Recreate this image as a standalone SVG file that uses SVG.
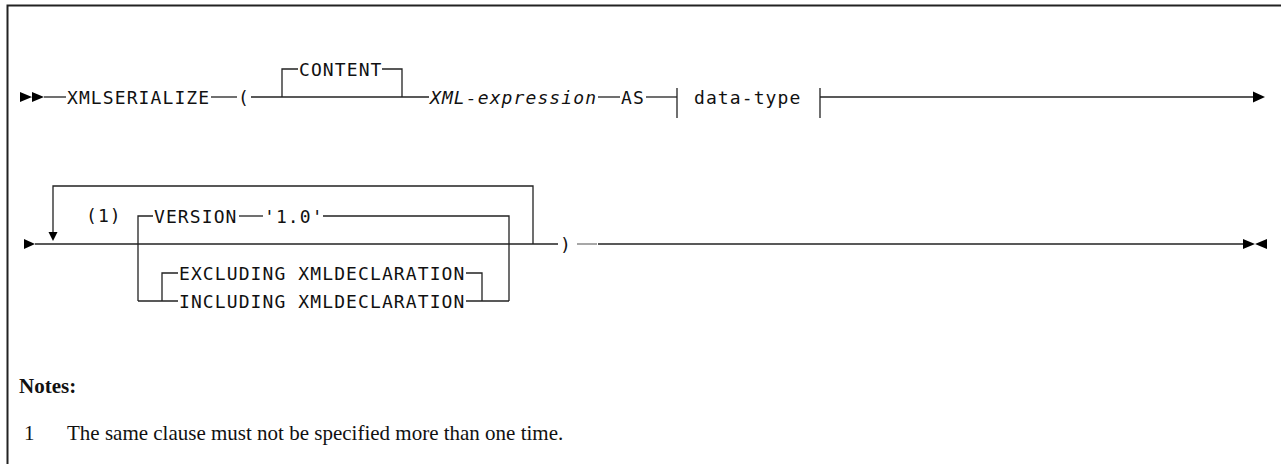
<svg xmlns="http://www.w3.org/2000/svg" width="1281" height="464" viewBox="0 0 1281 464">
<style>
.t{font-family:"DejaVu Sans Mono","Liberation Mono",monospace;font-size:18px;letter-spacing:1.1px;fill:#111}
.i{font-style:italic}
.ln{fill:none;stroke:#222;stroke-width:1.3}
.ah{fill:#000}
.n{font-family:"Liberation Serif","Times New Roman",serif;font-size:21px;fill:#111}
.b{font-weight:bold}
</style>
<rect width="1281" height="464" fill="#fff"/>
<path d="M7.5,464 V5.5 H1281" fill="none" stroke="#222" stroke-width="2"/>
<g id="connectors">
  <path class="ah" d="M20,92 L32,97 L20,102 Z M32,92 L44,97 L32,102 Z"/>
  <path class="ln" d="M44,97 H66"/>
  <path class="ln" d="M211,97 H237"/>
  <path class="ln" d="M251,97 H429"/>
  <path class="ln" d="M282,97 V69 H298"/>
  <path class="ln" d="M382,69 H402 V97"/>
  <path class="ln" d="M598,97 H620"/>
  <path class="ln" d="M646,97 H677"/>
  <path class="ln" d="M677,88 V118"/>
  <path class="ln" d="M820,88 V118"/>
  <path class="ln" d="M820,97 H1254"/>
  <path class="ah" d="M1253,91.5 L1265,97 L1253,102.5 Z"/>
  <path class="ah" d="M24,239 L35,244 L24,249 Z"/>
  <path class="ln" d="M35,244 H558"/>
  <path class="ln" d="M533,244 V186 H53 V233"/>
  <path class="ah" d="M48.5,232 L57.5,232 L53,241 Z"/>
  <path class="ln" d="M138,301 V216 H153"/>
  <path class="ln" d="M239,216 H263"/>
  <path class="ln" d="M323,216 H509 V301"/>
  <path class="ln" d="M162,301 V273 H178"/>
  <path class="ln" d="M466,273 H482 V301"/>
  <path class="ln" d="M138,301 H178"/>
  <path class="ln" d="M466,301 H509"/>
  <path d="M577,244 H597" fill="none" stroke="#777" stroke-width="1.3"/>
  <path class="ln" d="M598,244 H1243"/>
  <path class="ah" d="M1243,239 L1255,244 L1243,249 Z M1267,239 L1255,244 L1267,249 Z"/>
</g>
<g id="n-xmlserialize"><text class="t" x="67" y="103.5">XMLSERIALIZE</text></g>
<g id="n-lparen"><text class="t" x="238" y="103.5">(</text></g>
<g id="n-content"><text class="t" x="299" y="75.5">CONTENT</text></g>
<g id="n-xmlexpr"><text class="t i" x="430" y="103.5">XML-expression</text></g>
<g id="n-as"><text class="t" x="621" y="103.5">AS</text></g>
<g id="n-datatype"><text class="t" x="694" y="103.5">data-type</text></g>
<g id="n-note1"><text class="t" x="86" y="222">(1)</text></g>
<g id="n-version"><text class="t" x="154" y="222.5">VERSION</text></g>
<g id="n-v10"><text class="t" x="264" y="222.5">'1.0'</text></g>
<g id="n-excluding"><text class="t" x="179" y="279.5">EXCLUDING XMLDECLARATION</text></g>
<g id="n-including"><text class="t" x="179" y="307.5">INCLUDING XMLDECLARATION</text></g>
<g id="n-rparen"><text class="t" x="560" y="250.5">)</text></g>
<g id="notes">
  <text class="n b" x="19" y="393">Notes:</text>
  <text class="n" x="24" y="440">1</text>
  <text class="n" x="67" y="440">The same clause must not be specified more than one time.</text>
</g>
</svg>
